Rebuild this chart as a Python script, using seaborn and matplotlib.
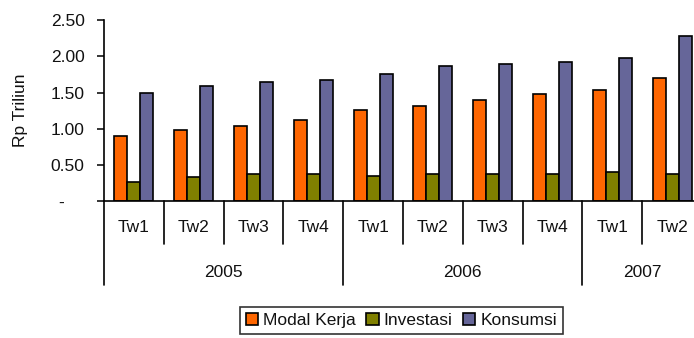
import matplotlib
matplotlib.use("Agg")
import matplotlib.pyplot as plt
import seaborn as sns
import pandas as pd

# Quarterly credit by use (Rp trillion)
years = ["2005", "2005", "2005", "2005", "2006", "2006", "2006", "2006", "2007", "2007"]
quarters = ["Tw1", "Tw2", "Tw3", "Tw4", "Tw1", "Tw2", "Tw3", "Tw4", "Tw1", "Tw2"]
modal_kerja = [0.90, 0.99, 1.04, 1.12, 1.26, 1.32, 1.40, 1.48, 1.54, 1.70]
investasi = [0.27, 0.33, 0.38, 0.38, 0.35, 0.38, 0.38, 0.38, 0.41, 0.38]
konsumsi = [1.50, 1.59, 1.65, 1.67, 1.76, 1.87, 1.89, 1.92, 1.98, 2.28]
series_names = ["Modal Kerja", "Investasi", "Konsumsi"]
colors = ["#FF6600", "#808000", "#666699"]
yticks = [0, 0.5, 1.0, 1.5, 2.0, 2.5]
ytick_labels = ["-    ", "0.50", "1.00", "1.50", "2.00", "2.50"]

periods = [f"{y} {q}" for y, q in zip(years, quarters)]
df = pd.DataFrame({
    "period": periods * 3,
    "series": [s for s in series_names for _ in periods],
    "value": modal_kerja + investasi + konsumsi,
})

sns.set_theme(style="white")
plt.rcParams["font.family"] = ["Liberation Sans", "DejaVu Sans"]
plt.rcParams["font.size"] = 12

fig = plt.figure(figsize=(6.94, 3.38), dpi=100)
ax = fig.add_axes([104 / 694, 1 - 201.3 / 338, 598 / 694, 181.3 / 338])

sns.barplot(data=df, x="period", y="value", hue="series", order=periods,
            hue_order=series_names, palette=colors, saturation=1, width=0.65,
            edgecolor="black", linewidth=1.2, ax=ax, legend=True)

ax.set_xlim(-0.5, len(periods) - 0.5)
ax.set_ylim(0, 2.5)
ax.set_yticks(yticks)
ax.set_yticklabels(ytick_labels, fontsize=12.5, color="#111111")
ax.tick_params(axis="y", direction="out", length=5, width=1.1, color="black",
               pad=9, left=True)
ax.set_xticks([])
ax.set_xlabel("")
ax.set_ylabel("Rp Triliun", fontsize=12.5, color="#111111", labelpad=16)
for side in ["top", "right"]:
    ax.spines[side].set_visible(False)
for side in ["left", "bottom"]:
    ax.spines[side].set_visible(True)
    ax.spines[side].set_color("black")
    ax.spines[side].set_linewidth(1.2)

# Two-level category axis: quarters on the first row, years below
tr = ax.get_xaxis_transform()
for i, q in enumerate(quarters):
    ax.text(i, -0.147, q, transform=tr, ha="center", va="center",
            fontsize=12.5, color="#111111")
for b in range(1, len(periods)):
    if years[b] != years[b - 1]:
        continue
    ax.plot([b - 0.5, b - 0.5], [0, -0.2355], transform=tr, color="black",
            lw=1.2, clip_on=False)
year_starts = [0] + [i for i in range(1, len(years)) if years[i] != years[i - 1]]
year_ends = year_starts[1:] + [len(years)]
for s, e in zip(year_starts, year_ends):
    ax.plot([s - 0.5, s - 0.5], [0, -0.4617], transform=tr, color="black",
            lw=1.2, clip_on=False)
    ax.text((s + e - 1) / 2, -0.39, years[s], transform=tr, ha="center",
            va="center", fontsize=12.5, color="#111111")

handles, labels = ax.get_legend_handles_labels()
ax.get_legend().remove()
leg = fig.legend(handles, labels, loc="upper center",
                 bbox_to_anchor=(401.5 / 694, 1 - 306.5 / 338), ncol=3,
                 frameon=True, fancybox=False, edgecolor="black",
                 fontsize=12.5, handlelength=0.7, handleheight=0.7,
                 handletextpad=0.3, columnspacing=0.6, borderpad=0.35,
                 borderaxespad=0)
leg.get_frame().set_linewidth(1.2)
for t in leg.get_texts():
    t.set_color("#111111")

fig.savefig("out.png", dpi=100)
